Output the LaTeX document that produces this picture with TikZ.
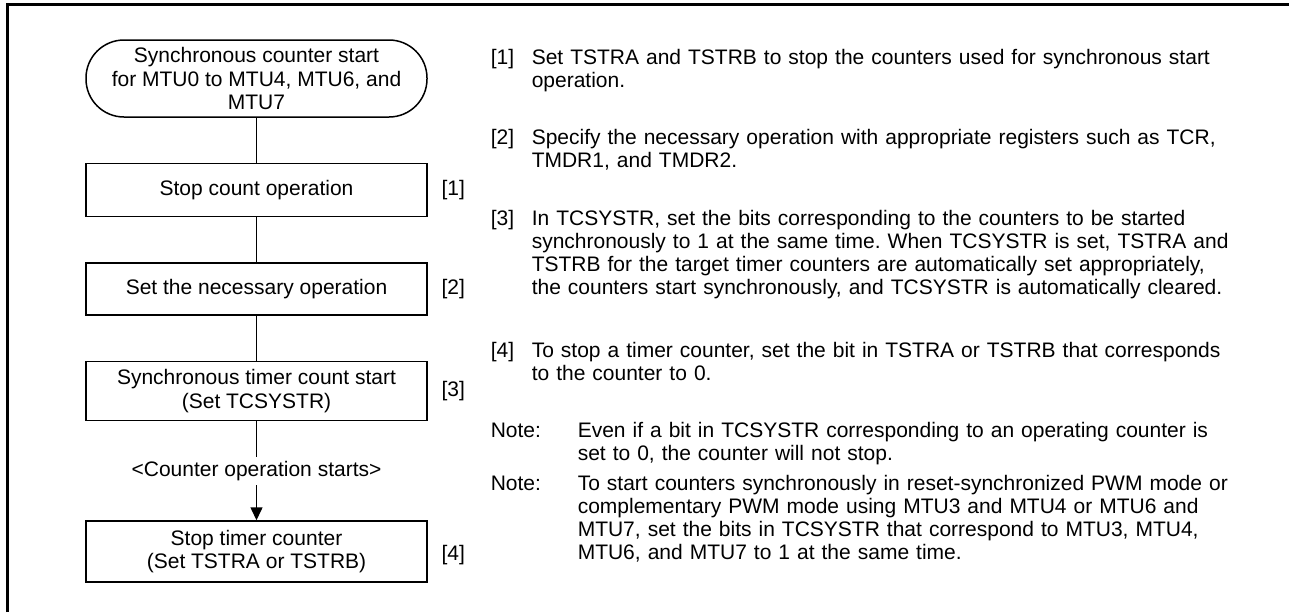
\documentclass[tikz,border=0pt]{standalone}
\usepackage{fontspec}
\setmainfont{Liberation Sans}
\usetikzlibrary{positioning,arrows.meta}
\frenchspacing

\begin{document}
\begin{tikzpicture}[x=0.5pt, y=-0.5pt, node distance=22.5pt and 6.5pt, line width=0.75pt,
  every node/.style={font=\fontsize{10.5}{11.6}\selectfont},
  term/.style={draw, rounded corners=19pt, minimum width=170.5pt, minimum height=38.5pt, inner sep=0pt, align=center},
  stepbox/.style={draw, minimum width=170.5pt, minimum height=26.5pt, inner sep=0pt, align=center},
  tag/.style={inner sep=0pt},
  desc/.style={inner sep=0pt, text width=360pt, align=left, anchor=base west},
  >={Triangle[length=6.5pt, width=6pt]}]
  \useasboundingbox (0,0) rectangle (1289,612);
  \draw[line width=1.5pt] (7,612) -- (7,4.5) -- (1289,4.5);
  % flow
  \node[term] (start) at (256.5,78.5) {Synchronous counter start\\for MTU0 to MTU4, MTU6, and\\MTU7};
  \node[stepbox, below=of start] (s1) {Stop count operation};
  \node[stepbox, below=of s1, minimum height=26pt] (s2) {Set the necessary operation};
  \node[stepbox, below=of s2, minimum height=29.5pt] (s3) {Synchronous timer count start\\(Set TCSYSTR)};
  \node[stepbox, below=49.5pt of s3, minimum height=30.5pt] (s4) {Stop timer counter\\(Set TSTRA or TSTRB)};
  \node[tag, right=of s1] (l1) {[1]};
  \node[tag, right=of s2] (l2) {[2]};
  \node[tag, right=of s3] (l3) {[3]};
  \node[tag, right=of s4, yshift=-2pt] (l4) {[4]};
  \draw (start) -- (s1); \draw (s1) -- (s2); \draw (s2) -- (s3);
  \draw[->] (s3) -- node[fill=white, inner sep=2pt] {<Counter operation starts>} (s4);
  % description
  \node[tag, anchor=base west] (n1) at (490,64) {[1]};
  \node[desc] (d1) at (531,64) {Set TSTRA and TSTRB to stop the counters used for synchronous start\\operation.};
  \node[tag, anchor=base west] (n2) at (490,144) {[2]};
  \node[desc] (d2) at (531,144) {Specify the necessary operation with appropriate registers such as TCR,\\TMDR1, and TMDR2.};
  \node[tag, anchor=base west] (n3) at (490,225) {[3]};
  \node[desc] (d3) at (531,225) {In TCSYSTR, set the bits corresponding to the counters to be started\\synchronously to 1 at the same time. When TCSYSTR is set, TSTRA and\\TSTRB for the target timer counters are automatically set appropriately,\\the counters start synchronously, and TCSYSTR is automatically cleared.};
  \node[tag, anchor=base west] (n4) at (490,357) {[4]};
  \node[desc] (d4) at (531,357) {To stop a timer counter, set the bit in TSTRA or TSTRB that corresponds\\to the counter to 0.};
  \node[tag, anchor=base west] (m1) at (490,437) {Note:};
  \node[desc, text width=330pt] (e1) at (577,437) {Even if a bit in TCSYSTR corresponding to an operating counter is\\set to 0, the counter will not stop.};
  \node[tag, anchor=base west] (m2) at (490,490) {Note:};
  \node[desc, text width=330pt] (e2) at (577,490) {To start counters synchronously in reset-synchronized PWM mode or\\complementary PWM mode using MTU3 and MTU4 or MTU6 and\\MTU7, set the bits in TCSYSTR that correspond to MTU3, MTU4,\\MTU6, and MTU7 to 1 at the same time.};
\end{tikzpicture}
\end{document}
